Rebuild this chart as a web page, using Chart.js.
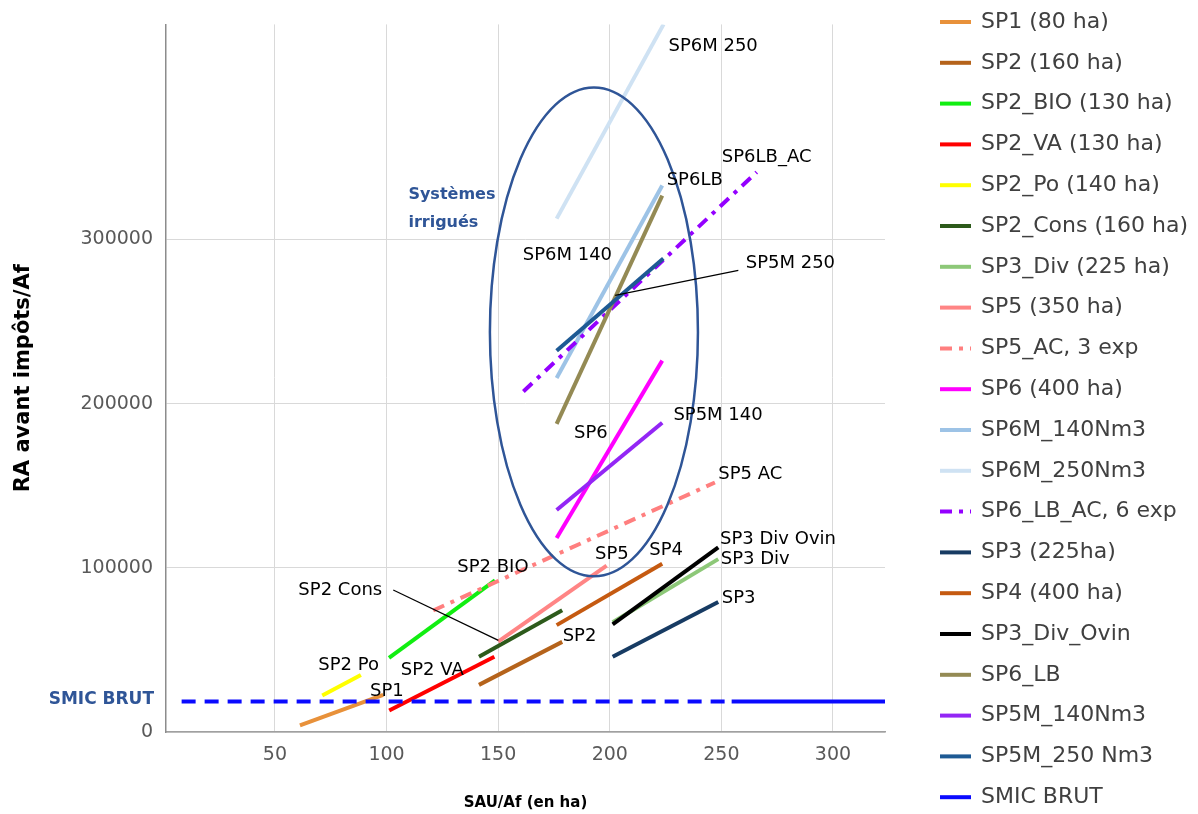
<!DOCTYPE html>
<html>
<head>
<meta charset="utf-8">
<script src="https://cdn.jsdelivr.net/npm/chart.js@4.4.0/dist/chart.umd.min.js"></script>
<style>
  html, body { margin: 0; padding: 0; background: #fff; }
</style>
</head>
<body>
<canvas id="graficoRevenus" width="1198" height="814"></canvas>
<script>
// valeurs : [SAU/Af, RA avant impôts/Af]
var sp1 = [[61.2, 4000], [98.5, 22600]];
var sp2 = [[141.4, 28700], [178.7, 54900]];
var sp2Bio = [[101.1, 45200], [148.6, 92400]];
var sp2Va = [[101.2, 13100], [148.3, 45800]];
var sp2Po = [[71.2, 22200], [88.5, 34700]];
var sp2Cons = [[141.4, 45800], [178.7, 74200]];
var sp3Div = [[201.3, 66800], [248.6, 105300]];
var sp5 = [[150.0, 55000], [198.6, 101400]];
var sp5Ac = [[120.9, 74000], [247.1, 152000]];
var sp6 = [[176.2, 118200], [223.5, 226200]];
var sp6m140 = [[176.2, 215600], [223.5, 332900]];
var sp6m250 = [[176.2, 312700], [224.1, 431000]];
var sp6LbAc = [[161.3, 207400], [265.8, 341000]];
var sp3 = [[201.3, 45800], [248.6, 79200]];
var sp4 = [[176.2, 65100], [223.5, 102500]];
var sp3DivOvin = [[201.3, 65500], [248.6, 112500]];
var sp6Lb = [[176.2, 187700], [223.5, 326700]];
var sp5m140 = [[176.2, 135200], [223.5, 188400]];
var sp5m250 = [[176.2, 232200], [224.0, 288400]];
var smicBrut = [[8.2, 18600], [254.6, 18600], [323.3, 18600]];

var nomes = ['SP1 (80 ha)', 'SP2 (160 ha)', 'SP2_BIO (130 ha)', 'SP2_VA (130 ha)',
  'SP2_Po (140 ha)', 'SP2_Cons (160 ha)', 'SP3_Div (225 ha)', 'SP5 (350 ha)',
  'SP5_AC, 3 exp', 'SP6 (400 ha)', 'SP6M_140Nm3', 'SP6M_250Nm3', 'SP6_LB_AC, 6 exp',
  'SP3 (225ha)', 'SP4 (400 ha)', 'SP3_Div_Ovin', 'SP6_LB', 'SP5M_140Nm3',
  'SP5M_250 Nm3', 'SMIC BRUT'];

var series = [sp1, sp2, sp2Bio, sp2Va, sp2Po, sp2Cons, sp3Div, sp5, sp5Ac, sp6,
  sp6m140, sp6m250, sp6LbAc, sp3, sp4, sp3DivOvin, sp6Lb, sp5m140, sp5m250, smicBrut];

var xTicks = [50, 100, 150, 200, 250, 300];
var yTicks = [0, 100000, 200000, 300000];

// étiquettes posées sur le graphique : [texte, x, y]
var etiquettes = [
  ['SP6M 250', 226.3, 417800], ['SP6LB_AC', 250.2, 349900], ['SP6LB', 225.5, 335900],
  ['SP6M 140', 161.0, 290500], ['SP5M 250', 260.9, 285200], ['SP5M 140', 228.5, 192700],
  ['SP6', 184.0, 182100], ['SP5 AC', 248.6, 157200], ['SP3 Div Ovin', 249.4, 117500],
  ['SP3 Div', 249.7, 105300], ['SP4', 217.7, 110800], ['SP5', 193.4, 108400],
  ['SP2 BIO', 131.7, 100200], ['SP2 Cons', 60.5, 86100], ['SP2 Po', 69.4, 40600],
  ['SP2 VA', 106.4, 37600], ['SP1', 92.6, 25000], ['SP2', 178.9, 58200], ['SP3', 250.2, 81700]
];
var traitsRappel = [[257.6, 281200, 202.4, 266000], [103.0, 86500, 150.1, 55800]];
var zoneIrriguee = [192.9, 243700, 46.6, 148900];
var texteZone = [['Systèmes', 109.8, 327000], ['irrigués', 109.8, 310100]];

var cores = ['#E8913A', '#B5631B', '#11EE11', '#FF0000', '#FFFF00', '#2D5A1B', '#8DC878',
  '#FF8585', '#FF7F7F', '#FF00FF', '#9DC3E6', '#CFE2F3', '#9400FF', '#173B63', '#C55A11',
  '#000000', '#948A54', '#9326F5', '#1E5A94', '#0A0AFF'];
var tracejados = { 8: [12, 7, 4, 7], 12: [12, 7, 4, 7] };

var datasets = nomes.map(function(nome, i) {
  var ds = {
    label: nome,
    data: series[i].map(function(p) { return { x: p[0], y: p[1] }; }),
    borderColor: cores[i],
    backgroundColor: cores[i],
    borderWidth: 4,
    borderDash: tracejados[i] || [],
    pointRadius: 0,
    fill: false,
    order: -i
  };
  if (i === 19) {
    ds.segment = {
      borderDash: function(c) { return c.p0DataIndex === 0 ? [14, 9] : []; }
    };
  }
  return ds;
});

var pluginAnotacoes = {
  id: 'anotacoes',
  afterDatasetsDraw: function(chart) {
    var ctx = chart.ctx;
    var xs = chart.scales.x, ys = chart.scales.y;
    ctx.save();

    var cx = xs.getPixelForValue(zoneIrriguee[0]);
    var cy = ys.getPixelForValue(zoneIrriguee[1]);
    var rx = xs.getPixelForValue(zoneIrriguee[0] + zoneIrriguee[2]) - cx;
    var ry = cy - ys.getPixelForValue(zoneIrriguee[1] + zoneIrriguee[3]);
    ctx.beginPath();
    ctx.ellipse(cx, cy, rx, ry, 0, 0, Math.PI * 2);
    ctx.strokeStyle = '#2F5597';
    ctx.lineWidth = 2.5;
    ctx.stroke();

    ctx.strokeStyle = '#000';
    ctx.lineWidth = 1.2;
    traitsRappel.forEach(function(t) {
      ctx.beginPath();
      ctx.moveTo(xs.getPixelForValue(t[0]), ys.getPixelForValue(t[1]));
      ctx.lineTo(xs.getPixelForValue(t[2]), ys.getPixelForValue(t[3]));
      ctx.stroke();
    });

    ctx.textBaseline = 'middle';
    ctx.textAlign = 'left';
    ctx.fillStyle = '#000';
    ctx.font = '18px "DejaVu Sans"';
    etiquettes.forEach(function(e) {
      ctx.fillText(e[0], xs.getPixelForValue(e[1]), ys.getPixelForValue(e[2]));
    });

    ctx.fillStyle = '#2F5597';
    ctx.font = 'bold 16px "DejaVu Sans"';
    texteZone.forEach(function(e) {
      ctx.fillText(e[0], xs.getPixelForValue(e[1]), ys.getPixelForValue(e[2]));
    });

    ctx.font = 'bold 17px "DejaVu Sans"';
    ctx.textAlign = 'right';
    ctx.fillText('SMIC BRUT', chart.chartArea.left - 12, ys.getPixelForValue(smicBrut[0][1]) - 2);
    ctx.restore();
  },
  afterDraw: function(chart) {
    var ctx = chart.ctx;
    ctx.save();
    ctx.font = '22px "DejaVu Sans"';
    ctx.textBaseline = 'middle';
    chart.data.datasets.forEach(function(ds, i) {
      var y = 22 + i * 40.8;
      ctx.beginPath();
      ctx.setLineDash(ds.borderDash || []);
      ctx.strokeStyle = ds.borderColor;
      ctx.lineWidth = 4;
      ctx.moveTo(940, y);
      ctx.lineTo(971, y);
      ctx.stroke();
      ctx.setLineDash([]);
      ctx.fillStyle = '#404040';
      ctx.fillText(ds.label, 981, y);
    });
    ctx.restore();
  }
};

new Chart(document.getElementById('graficoRevenus').getContext('2d'), {
  type: 'line',
  data: { datasets: datasets },
  options: {
    responsive: false,
    animation: false,
    layout: { padding: { left: 0, top: 21, right: 313, bottom: 0 } },
    plugins: {
      legend: { display: false },
      tooltip: { enabled: false }
    },
    scales: {
      x: {
        type: 'linear',
        min: 1.2,
        max: 323.3,
        afterBuildTicks: function(s) { s.ticks = xTicks.map(function(v) { return { value: v }; }); },
        afterFit: function(s) { s.height = 82; },
        grid: { color: '#D9D9D9', drawTicks: false },
        border: { color: '#A0A0A0', width: 1.5 },
        ticks: { color: '#595959', padding: 12, font: { family: 'DejaVu Sans', size: 19 } },
        title: {
          display: true,
          text: 'SAU/Af (en ha)',
          color: '#000',
          padding: { top: 0, bottom: 2 },
          font: { family: 'DejaVu Sans', size: 15, weight: 'bold' }
        }
      },
      y: {
        min: 0,
        max: 431000,
        afterBuildTicks: function(s) { s.ticks = yTicks.map(function(v) { return { value: v }; }); },
        afterFit: function(s) { s.width = 166; },
        grid: { color: '#D9D9D9', drawTicks: false },
        border: { color: '#8C8C8C', width: 1.5 },
        ticks: {
          color: '#595959',
          padding: 13,
          font: { family: 'DejaVu Sans', size: 19 },
          callback: function(v) { return String(v); }
        },
        title: {
          display: true,
          text: 'RA avant impôts/Af',
          color: '#000',
          padding: { top: 11, bottom: 0 },
          font: { family: 'DejaVu Sans', size: 21, weight: 'bold' }
        }
      }
    }
  },
  plugins: [pluginAnotacoes]
});
</script>
</body>
</html>
